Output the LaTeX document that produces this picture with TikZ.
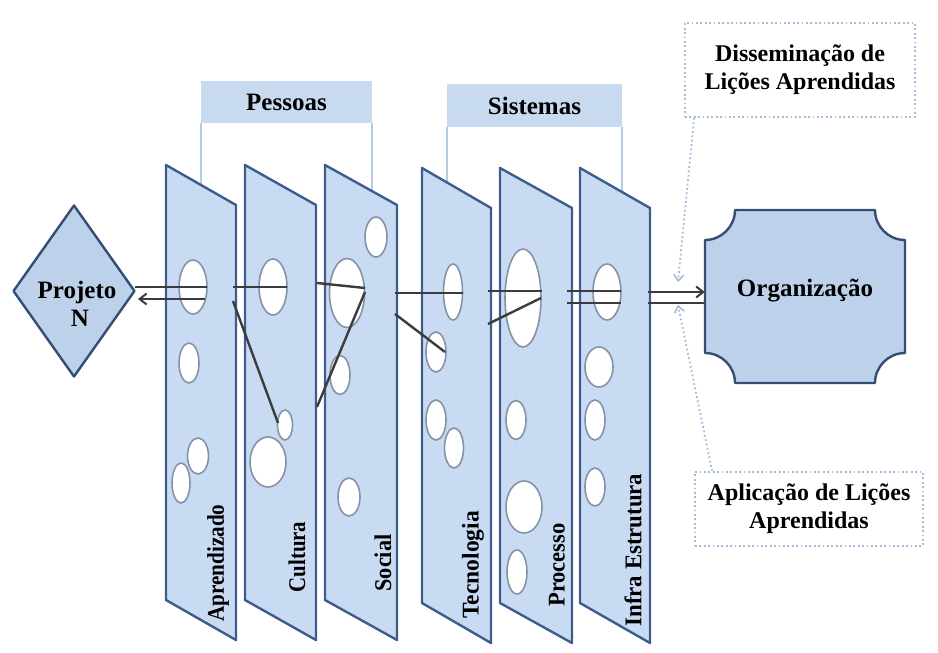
\documentclass[tikz,border=0pt]{standalone}
\usepackage{fontspec}
\usepackage{graphicx}
\setmainfont{Liberation Serif}
\usetikzlibrary{shapes.geometric,arrows.meta}

\definecolor{panelfill}{RGB}{200,219,243}
\definecolor{paneledge}{RGB}{62,92,140}
\definecolor{holeedge}{RGB}{134,147,166}
\definecolor{headfill}{RGB}{200,218,240}
\definecolor{headline}{RGB}{184,203,228}
\definecolor{linkcol}{RGB}{60,60,60}
\definecolor{shapefill}{RGB}{190,209,235}
\definecolor{shapeedge}{RGB}{52,78,115}
\definecolor{dotcol}{RGB}{165,186,216}

\tikzset{
  panel/.style={draw=paneledge, fill=panelfill, line width=2.4pt, line join=round},
  hole/.style={ellipse, draw=holeedge, fill=white, line width=1.6pt, inner sep=0pt},
  link/.style={draw=linkcol, line width=2.4pt},
  linkarrow/.style={link, -{Straight Barb[length=7pt,width=11pt,line width=2pt]}},
  headbox/.style={fill=headfill, inner sep=0pt, font=\fontsize{25}{28}\selectfont\bfseries},
  headleg/.style={draw=headline, line width=1.8pt},
  bigshape/.style={draw=shapeedge, fill=shapefill, line width=2.4pt, line join=round},
  bigtext/.style={font=\fontsize{25}{28}\selectfont\bfseries, align=center, inner sep=0pt},
  panellabel/.style={rotate=90, font=\fontsize{24}{26}\selectfont\bfseries, inner sep=0pt},
  notebox/.style={draw=dotcol, line width=1.8pt, dash pattern=on 1.8pt off 2.6pt,
    inner sep=0pt, align=center, font=\fontsize{24}{28}\selectfont\bfseries},
  notearrow/.style={draw=dotcol, line width=1.8pt, dash pattern=on 1.8pt off 2.6pt,
    -{Straight Barb[length=6pt,width=10pt,line width=1.6pt]}}
}

\begin{document}
\begin{tikzpicture}[x=1pt,y=-1pt]
\useasboundingbox (0,0) rectangle (938,653);

% group headers with their legs
\node[headbox, minimum width=171pt, minimum height=42pt] (pessoas) at (286.5,102) {Pessoas};
\draw[headleg] (pessoas.south west) -- ++(0,110);
\draw[headleg] (pessoas.south east) -- ++(0,110);
\node[headbox, minimum width=175pt, minimum height=43pt] (sistemas) at (534.5,105.5) {Sistemas};
\draw[headleg] (sistemas.south west) -- ++(0,110);
\draw[headleg] (sistemas.south east) -- ++(0,110);

% slanted panels
\draw[panel] (166,165) -- (236,205) -- (236,640) -- (166,600) -- cycle;
\draw[panel] (245,165) -- (316,205) -- (316,640) -- (245,600) -- cycle;
\draw[panel] (325,165) -- (397,205) -- (397,640) -- (325,600) -- cycle;
\draw[panel] (422,168) -- (491,208) -- (491,643) -- (422,603) -- cycle;
\draw[panel] (500,168) -- (572,208) -- (572,643) -- (500,603) -- cycle;
\draw[panel] (580,168) -- (650,208) -- (650,643) -- (580,603) -- cycle;

% holes: Aprendizado
\node[hole, minimum width=28pt, minimum height=54pt] (a1) at (193,287) {};
\node[hole, minimum width=20pt, minimum height=40pt] (a2) at (189,363) {};
\node[hole, minimum width=21pt, minimum height=36pt] (a3) at (198,456) {};
\node[hole, minimum width=18pt, minimum height=40pt] (a4) at (181,483) {};
% holes: Cultura
\node[hole, minimum width=28pt, minimum height=56pt] (c1) at (273,287) {};
\node[hole, minimum width=15pt, minimum height=30pt] (c2) at (285,425) {};
\node[hole, minimum width=36pt, minimum height=50pt] (c3) at (268,462) {};
% holes: Social
\node[hole, minimum width=22pt, minimum height=40pt] (s1) at (376,237) {};
\node[hole, minimum width=35pt, minimum height=69pt] (s2) at (347,293) {};
\node[hole, minimum width=20pt, minimum height=39pt] (s3) at (340,375) {};
\node[hole, minimum width=22pt, minimum height=38pt] (s4) at (349,497) {};
% holes: Tecnologia
\node[hole, minimum width=19pt, minimum height=56pt] (t1) at (453,292) {};
\node[hole, minimum width=20pt, minimum height=40pt] (t2) at (436,352) {};
\node[hole, minimum width=20pt, minimum height=40pt] (t3) at (436,420) {};
\node[hole, minimum width=19pt, minimum height=40pt] (t4) at (454,448) {};
% holes: Processo
\node[hole, minimum width=36pt, minimum height=98pt] (r1) at (523,298) {};
\node[hole, minimum width=20pt, minimum height=39pt] (r2) at (516,420) {};
\node[hole, minimum width=36pt, minimum height=52pt] (r3) at (524,507) {};
\node[hole, minimum width=20pt, minimum height=44pt] (r4) at (517,572) {};
% holes: Infra Estrutura
\node[hole, minimum width=28pt, minimum height=56pt] (i1) at (607,292) {};
\node[hole, minimum width=28pt, minimum height=40pt] (i2) at (599,367) {};
\node[hole, minimum width=20pt, minimum height=40pt] (i3) at (595,420) {};
\node[hole, minimum width=20pt, minimum height=38pt] (i4) at (595,487) {};

% panel labels (set slightly condensed along the reading direction)
\node[panellabel] (lapr) at (218,563) {\scalebox{0.88}[1]{Aprendizado}};
\node[panellabel] (lcul) at (297,557) {\scalebox{0.87}[1]{Cultura}};
\node[panellabel] (lsoc) at (383,563) {\scalebox{0.93}[1]{Social}};
\node[panellabel] (ltec) at (473,565) {\scalebox{0.98}[1]{Tecnologia}};
\node[panellabel] (lpro) at (557,565) {\scalebox{0.94}[1]{Processo}};
\node[panellabel] (linf) at (633,550) {\scalebox{0.95}[1]{Infra Estrutura}};

% project diamond
\node[diamond, bigshape, minimum width=122pt, minimum height=172pt, inner sep=0pt] (proj) at (74,291) {};
\node[bigtext] (projtxt) at (77,304) {Projeto\\\hspace*{6pt}N};

% organisation plaque with concave corners
\draw[bigshape] (735,210) -- (875,210)
  .. controls (875,226.5) and (888.5,240) .. (905,240) -- (905,353)
  .. controls (888.5,353) and (875,366.5) .. (875,383) -- (735,383)
  .. controls (735,366.5) and (721.5,353) .. (705,353) -- (705,240)
  .. controls (721.5,240) and (735,226.5) .. (735,210) -- cycle;
\node[bigtext, minimum width=200pt, minimum height=173pt] (org) at (805,291) {Organização};

% lessons-learned notes
\node[notebox, minimum width=230pt, minimum height=94pt] (dis) at (800,70) {Disseminação de\\Lições Aprendidas};
\node[notebox, minimum width=228pt, minimum height=74pt] (apl) at (809,509) {Aplicação de Lições\\Aprendidas};

% connector end points
\coordinate (p0a) at (135,287); \coordinate (p0b) at (207,287);
\coordinate (q0a) at (205,299); \coordinate (q0b) at (138,299);
\coordinate (p1a) at (233,287); \coordinate (p1b) at (287,287);
\coordinate (p2a) at (233,301); \coordinate (p2b) at (278,423);
\coordinate (p3a) at (317,283); \coordinate (p3b) at (365,288);
\coordinate (p4a) at (317,407); \coordinate (p4b) at (365,292);
\coordinate (p5a) at (395,293); \coordinate (p5b) at (463,293);
\coordinate (p6a) at (395,314); \coordinate (p6b) at (445,352);
\coordinate (p7a) at (488,291); \coordinate (p7b) at (542,291);
\coordinate (p8a) at (488,324); \coordinate (p8b) at (541,298);
\coordinate (p9a) at (567,291); \coordinate (p9b) at (621,291);
\coordinate (p10a) at (567,303); \coordinate (p10b) at (621,303);
\coordinate (p11a) at (648,292); \coordinate (p12a) at (648,303);
\coordinate (disend) at (678,282);
\coordinate (aplend) at (678,305);

% knowledge flow lines
\draw[link] (p0a) -- (p0b);
\draw[linkarrow] (q0a) -- (q0b);
\draw[link] (p1a) -- (p1b);
\draw[link] (p2a) -- (p2b);
\draw[link] (p3a) -- (p3b);
\draw[link] (p4a) -- (p4b);
\draw[link] (p5a) -- (p5b);
\draw[link] (p6a) -- (p6b);
\draw[link] (p7a) -- (p7b);
\draw[link] (p8a) -- (p8b);
\draw[link] (p9a) -- (p9b);
\draw[link] (p10a) -- (p10b);
\draw[linkarrow] (p11a) -- ([yshift=-1pt]org.west);
\draw[link] (p12a) -- ([yshift=-12pt]org.west);

% dotted note pointers
\draw[notearrow] ([xshift=10pt]dis.south west) -- (disend);
\draw[notearrow] ([xshift=18pt]apl.north west) -- (aplend);
\end{tikzpicture}
\end{document}
